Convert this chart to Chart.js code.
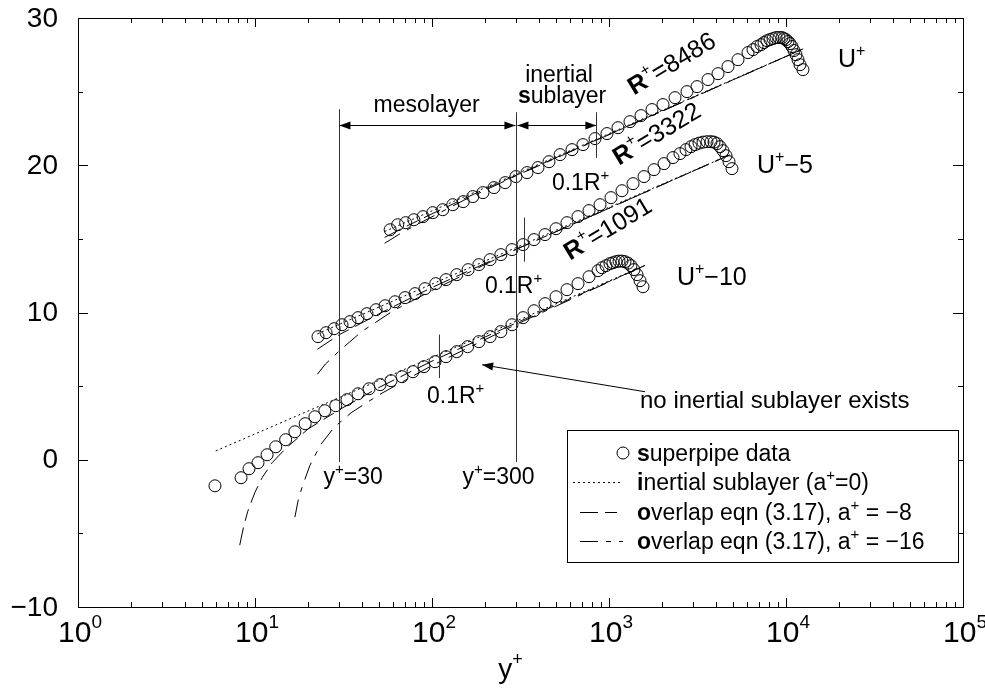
<!DOCTYPE html>
<html>
<head>
<meta charset="utf-8">
<script src="https://cdn.jsdelivr.net/npm/chart.js@4.4.0/dist/chart.umd.min.js"></script>
<style>
  body { margin: 0; background: #fff; }
  #wrap { width: 985px; height: 692px; }
</style>
</head>
<body>
<div id="wrap"><canvas id="profileChart" width="985" height="692"></canvas></div>
<script>
// superpipe mean velocity profiles (plotted as U+, U+-5, U+-10)
const yPlusR8486 = [58, 64, 71, 79, 89, 101, 115, 131, 150, 170, 194, 224, 259, 298, 344, 397, 458, 529, 618, 713,
  834, 974, 1124, 1314, 1516, 1750, 2019, 2360, 2758, 3142, 3625, 4129, 4702, 5356, 6100, 6512, 6859, 7225, 7512, 7810,
  8120, 8445, 8781, 9131, 9494, 9743, 10000, 10264, 10533, 10810, 11096, 11390, 11690, 11996, 12470];
const uPlotR8486 = [15.62, 15.96, 16.10, 16.30, 16.51, 16.78, 16.98, 17.32, 17.53, 17.87, 18.14, 18.48, 18.82, 19.23, 19.50,
  19.84, 20.24, 20.72, 21.06, 21.40, 21.81, 22.15, 22.55, 22.96, 23.37, 23.78, 24.12, 24.59, 25.00, 25.34, 25.82, 26.22,
  26.70, 27.17, 27.65, 27.85, 28.06, 28.19, 28.33, 28.46, 28.53, 28.60, 28.67, 28.67, 28.67, 28.60, 28.53, 28.40, 28.26,
  28.06, 27.79, 27.51, 27.17, 26.83, 26.49];

const yPlusR3322 = [22.7, 25.2, 28.0, 31.0, 34.4, 38.2, 42.9, 48.3, 54.3, 61.8, 70.4, 80.2, 91.3, 105, 120, 138, 160, 184,
  213, 245, 283, 327, 377, 435, 502, 579, 668, 771, 890, 1026, 1184, 1367, 1577, 1796, 2046, 2299, 2518, 2723, 2906, 3062,
  3226, 3397, 3579, 3770, 3920, 4075, 4237, 4406, 4581, 4764, 4953];
const uPlotR3322 = [8.36, 8.63, 8.90, 9.17, 9.38, 9.65, 9.92, 10.19, 10.46, 10.73, 11.01, 11.28, 11.62, 11.96, 12.23, 12.57,
  12.91, 13.25, 13.59, 13.93, 14.27, 14.61, 14.95, 15.29, 15.69, 16.10, 16.51, 16.92, 17.32, 17.80, 18.27, 18.75, 19.23,
  19.70, 20.11, 20.52, 20.79, 21.06, 21.26, 21.40, 21.50, 21.57, 21.60, 21.60, 21.57, 21.47, 21.26, 20.99, 20.65, 20.24, 19.77];

const yPlusR1091 = [5.94, 8.34, 9.25, 10.4, 11.7, 13.1, 14.9, 16.8, 19.2, 21.8, 24.8, 28.6, 33.1, 38.2, 44.1, 50.9, 58.7,
  67.7, 78.1, 90.1, 104, 120, 138, 159, 184, 213, 245, 283, 327, 377, 435, 502, 579, 668, 771, 867, 913, 962, 1013, 1053,
  1095, 1139, 1184, 1231, 1280, 1331, 1384, 1440, 1497, 1556];
const uPlotR1091 = [-1.77, -1.22, -0.61, -0.20, 0.34, 0.88, 1.36, 1.90, 2.45, 2.92, 3.33, 3.67, 4.08, 4.48, 4.82, 5.10, 5.37,
  5.64, 5.98, 6.32, 6.66, 7.00, 7.34, 7.68, 8.02, 8.36, 8.70, 9.17, 9.65, 10.12, 10.60, 11.07, 11.55, 11.96, 12.43, 12.84,
  13.04, 13.18, 13.32, 13.38, 13.45, 13.49, 13.49, 13.45, 13.35, 13.18, 12.91, 12.57, 12.16, 11.75];

// inertial sublayer (a+=0) and overlap curves (a+=-8, a+=-16)
const yLogR8486 = [54, 12500];
const uLogR8486 = [15.5, 27.9];
const yA8R8486 = [54, 70, 100, 200, 12500];
const uA8R8486 = [15.1, 15.8, 16.7, 18.4, 27.9];
const yA16R8486 = [54, 65, 80, 100, 150, 300, 12500];
const uA16R8486 = [14.7, 15.3, 15.9, 16.5, 17.6, 19.3, 27.9];

const yLogR3322 = [22.5, 4800];
const uLogR3322 = [8.55, 20.7];
const yA8R3322 = [22.5, 30, 50, 100, 300, 4800];
const uA8R3322 = [7.5, 8.5, 9.9, 11.7, 14.3, 20.7];
const yA16R3322 = [22.5, 25, 30, 40, 60, 100, 300, 4800];
const uA16R3322 = [5.8, 6.5, 7.4, 8.7, 10.1, 11.5, 14.3, 20.7];

const yLogR1091 = [6, 1600];
const uLogR1091 = [0.6, 13.2];
const yA8R1091 = [8.2, 8.6, 9.1, 10, 11, 12.5, 15, 20, 30, 50, 100, 300, 1600];
const uA8R1091 = [-5.8, -4.6, -3.5, -2.2, -1.2, -0.2, 0.8, 2.1, 3.4, 4.9, 6.7, 9.3, 13.2];
const yA16R1091 = [16.8, 17.5, 18.4, 20.4, 23.4, 28, 35, 50, 100, 300, 1600];
const uA16R1091 = [-3.9, -2.8, -1.9, -0.4, 1.0, 2.2, 3.2, 4.4, 6.4, 9.2, 13.2];

// layer bounds and 0.1R+ markers
const layerBounds = [30, 300];
const tenthR = [848.6, 332.2, 109.1];
const tenthRSpan = [[20.5, 23.6], [13.45, 16.45], [5.55, 8.5]];

const xDecades = [0, 1, 2, 3, 4, 5];
const yTicks = [-10, 0, 10, 20, 30];

const FONT = '"Liberation Sans", Arial, Helvetica, sans-serif';
const DOTTED = [2, 3];
const DASH_A8 = [18, 7, 12, 7];
const DASH_A16 = [18, 8, 5, 8];

function pts(xs, ys) {
  return xs.map((v, i) => ({ x: v, y: ys[i] }));
}

function circles(xs, ys) {
  return {
    data: pts(xs, ys),
    showLine: false,
    pointRadius: 6,
    pointHoverRadius: 6,
    pointBorderWidth: 1,
    pointBorderColor: "#000",
    pointBackgroundColor: "rgba(0,0,0,0)",
  };
}

function curve(xs, ys, dash) {
  return {
    data: pts(xs, ys),
    showLine: true,
    pointRadius: 0,
    borderColor: "#000",
    borderWidth: 1,
    borderDash: dash,
    tension: 0,
  };
}

// draws a run of text pieces: [text, size, weight, rise]
function drawParts(ctx, x, y, parts, align) {
  let total = 0;
  parts.forEach((p) => {
    ctx.font = `${p[2] || "normal"} ${p[1]}px ${FONT}`;
    total += ctx.measureText(p[0]).width;
  });
  let cx = x;
  if (align === "center") cx = x - total / 2;
  if (align === "right") cx = x - total;
  ctx.textAlign = "left";
  ctx.textBaseline = "alphabetic";
  parts.forEach((p) => {
    ctx.font = `${p[2] || "normal"} ${p[1]}px ${FONT}`;
    ctx.fillText(p[0], cx, y - (p[3] || 0));
    cx += ctx.measureText(p[0]).width;
  });
}

function arrowHead(ctx, x, y, dx, dy) {
  const len = Math.hypot(dx, dy);
  const ux = dx / len, uy = dy / len;
  const L = 11, W = 4;
  ctx.beginPath();
  ctx.moveTo(x, y);
  ctx.lineTo(x - ux * L - uy * W, y - uy * L + ux * W);
  ctx.lineTo(x - ux * L + uy * W, y - uy * L - ux * W);
  ctx.closePath();
  ctx.fill();
}

function doubleArrow(ctx, x1, x2, y) {
  ctx.beginPath();
  ctx.moveTo(x1, y);
  ctx.lineTo(x2, y);
  ctx.stroke();
  arrowHead(ctx, x1, y, -1, 0);
  arrowHead(ctx, x2, y, 1, 0);
}

const frameAndNotes = {
  id: "frameAndNotes",
  afterDatasetsDraw(chart) {
    const { ctx, chartArea: ca } = chart;
    const sx = chart.scales.x, sy = chart.scales.y;
    const px = (v) => sx.getPixelForValue(v);
    const py = (v) => sy.getPixelForValue(v);
    ctx.save();
    ctx.strokeStyle = "#000";
    ctx.fillStyle = "#000";
    ctx.lineWidth = 1;
    ctx.setLineDash([]);

    // frame
    ctx.strokeRect(ca.left + 0.5, ca.top + 0.5, ca.right - ca.left, ca.bottom - ca.top);

    // log ticks on bottom and top
    ctx.beginPath();
    for (let e = 0; e < 5; e++) {
      for (let k = 1; k <= 9; k++) {
        const xv = Math.round(px(k * Math.pow(10, e))) + 0.5;
        const len = k === 1 ? 9 : 5;
        ctx.moveTo(xv, ca.bottom);
        ctx.lineTo(xv, ca.bottom - len);
        ctx.moveTo(xv, ca.top);
        ctx.lineTo(xv, ca.top + len);
      }
    }
    // linear ticks on left and right
    for (let v = -10; v <= 30; v += 5) {
      const yv = Math.round(py(v)) + 0.5;
      const len = v % 10 === 0 ? 10 : 5;
      ctx.moveTo(ca.left, yv);
      ctx.lineTo(ca.left + len, yv);
      ctx.moveTo(ca.right, yv);
      ctx.lineTo(ca.right - len, yv);
    }
    ctx.stroke();

    // tick labels
    xDecades.forEach((e) => {
      drawParts(ctx, px(Math.pow(10, e)) + 2, ca.bottom + 35, [["10", 30], [String(e), 19, "normal", 14]], "center");
    });
    ctx.font = `28px ${FONT}`;
    ctx.textAlign = "right";
    ctx.textBaseline = "middle";
    yTicks.forEach((v) => {
      ctx.fillText(v < 0 ? "\u2212" + Math.abs(v) : String(v), ca.left - 20, py(v) + 1);
    });

    // axis title
    drawParts(ctx, (ca.left + ca.right) / 2 - 10, ca.bottom + 71, [["y", 28], ["+", 18, "normal", 13]], "center");

    // layer bounds
    ctx.strokeStyle = "#333";
    ctx.beginPath();
    ctx.moveTo(Math.round(px(layerBounds[0])) + 0.5, py(23.8));
    ctx.lineTo(Math.round(px(layerBounds[0])) + 0.5, py(-0.15));
    ctx.moveTo(Math.round(px(layerBounds[1])) + 0.5, py(23.6));
    ctx.lineTo(Math.round(px(layerBounds[1])) + 0.5, py(-0.15));
    tenthR.forEach((r, i) => {
      const xv = Math.round(px(r)) + 0.5;
      ctx.moveTo(xv, py(tenthRSpan[i][1]));
      ctx.lineTo(xv, py(tenthRSpan[i][0]));
    });
    ctx.stroke();
    ctx.strokeStyle = "#000";

    const arrowY = Math.round(py(22.76)) + 0.5;
    doubleArrow(ctx, px(layerBounds[0]), px(layerBounds[1]) - 1, arrowY);
    doubleArrow(ctx, px(layerBounds[1]) + 1, px(tenthR[0]), arrowY);

    // text notes
    const T = 23, S = 15, R = 10;
    drawParts(ctx, px(93.3), py(23.64), [["mesolayer", T]], "center");
    drawParts(ctx, px(522), py(25.68), [["inertial", T]], "center");
    drawParts(ctx, px(543), py(24.25), [["s", T, "bold"], ["ublayer", T]], "center");

    drawParts(ctx, px(476), py(18.34), [["0.1R", T], ["+", S, "normal", R]], "left");
    drawParts(ctx, px(199), py(11.35), [["0.1R", T], ["+", S, "normal", R]], "left");
    drawParts(ctx, px(93.7), py(3.87), [["0.1R", T], ["+", S, "normal", R]], "left");

    [[1384, 24.73, "=8486"], [1139, 19.97, "=3322"], [602, 13.52, "=1091"]].forEach((n) => {
      ctx.save();
      ctx.translate(px(n[0]), py(n[1]));
      ctx.rotate(-31 * Math.PI / 180);
      drawParts(ctx, 0, 0, [["R", 25, "bold"], ["+", 16, "normal", 11], [n[2], 25]], "left");
      ctx.restore();
    });

    drawParts(ctx, px(19670), py(26.7), [["U", 25], ["+", 16, "normal", 11]], "left");
    drawParts(ctx, px(6856), py(19.5), [["U", 25], ["+", 16, "normal", 11], ["\u22125", 25]], "left");
    drawParts(ctx, px(2421), py(11.89), [["U", 25], ["+", 16, "normal", 11], ["\u221210", 25]], "left");

    drawParts(ctx, px(30) - 16, py(-1.63), [["y", T], ["+", S, "normal", R], ["=30", T]], "left");
    drawParts(ctx, px(300) - 54, py(-1.63), [["y", T], ["+", S, "normal", R], ["=300", T]], "left");

    drawParts(ctx, px(1497), py(3.53), [["no inertial sublayer exists", 24]], "left");
    const ax1 = px(1597), ay1 = py(4.62), ax2 = px(192), ay2 = py(6.45);
    ctx.beginPath();
    ctx.moveTo(ax1, ay1);
    ctx.lineTo(ax2, ay2);
    ctx.stroke();
    arrowHead(ctx, ax2, ay2, ax2 - ax1, ay2 - ay1);

    // legend
    const lx = ca.right - 396, ly = ca.bottom - 177, lw = 391, lh = 132;
    ctx.fillStyle = "#fff";
    ctx.fillRect(lx, ly, lw, lh);
    ctx.fillStyle = "#000";
    ctx.strokeRect(lx + 0.5, ly + 0.5, lw, lh);
    const rows = [ly + 23, ly + 52, ly + 82, ly + 111];
    const tx = lx + 70;
    ctx.beginPath();
    ctx.arc(lx + 56, rows[0], 6, 0, Math.PI * 2);
    ctx.stroke();
    [[DOTTED, lx + 6], [DASH_A8, lx + 13], [DASH_A16, lx + 13]].forEach((d, i) => {
      ctx.setLineDash(d[0]);
      ctx.beginPath();
      ctx.moveTo(d[1], rows[i + 1] + 0.5);
      ctx.lineTo(lx + 56, rows[i + 1] + 0.5);
      ctx.stroke();
    });
    ctx.setLineDash([]);
    drawParts(ctx, tx, rows[0] + 8, [["s", T, "bold"], ["uperpipe data", T]], "left");
    drawParts(ctx, tx, rows[1] + 8, [["i", T, "bold"], ["nertial sublayer (a", T], ["+", S, "normal", R], ["=0)", T]], "left");
    drawParts(ctx, tx, rows[2] + 8, [["o", T, "bold"], ["verlap eqn (3.17), a", T], ["+", S, "normal", R], [" = \u22128", T]], "left");
    drawParts(ctx, tx, rows[3] + 8, [["o", T, "bold"], ["verlap eqn (3.17), a", T], ["+", S, "normal", R], [" = \u221216", T]], "left");

    ctx.restore();
  },
};

new Chart(document.getElementById("profileChart"), {
  type: "scatter",
  data: {
    datasets: [
      circles(yPlusR8486, uPlotR8486),
      circles(yPlusR3322, uPlotR3322),
      circles(yPlusR1091, uPlotR1091),
      curve(yLogR8486, uLogR8486, DOTTED),
      curve(yA8R8486, uA8R8486, DASH_A8),
      curve(yA16R8486, uA16R8486, DASH_A16),
      curve(yLogR3322, uLogR3322, DOTTED),
      curve(yA8R3322, uA8R3322, DASH_A8),
      curve(yA16R3322, uA16R3322, DASH_A16),
      curve(yLogR1091, uLogR1091, DOTTED),
      curve(yA8R1091, uA8R1091, DASH_A8),
      curve(yA16R1091, uA16R1091, DASH_A16),
    ],
  },
  options: {
    responsive: false,
    animation: false,
    events: [],
    layout: { padding: { left: 78, right: 22, top: 18, bottom: 85 } },
    plugins: { legend: { display: false }, tooltip: { enabled: false } },
    scales: {
      x: { type: "logarithmic", min: 1, max: 100000, display: false },
      y: { type: "linear", min: -10, max: 30, display: false },
    },
  },
  plugins: [frameAndNotes],
});
</script>
</body>
</html>
